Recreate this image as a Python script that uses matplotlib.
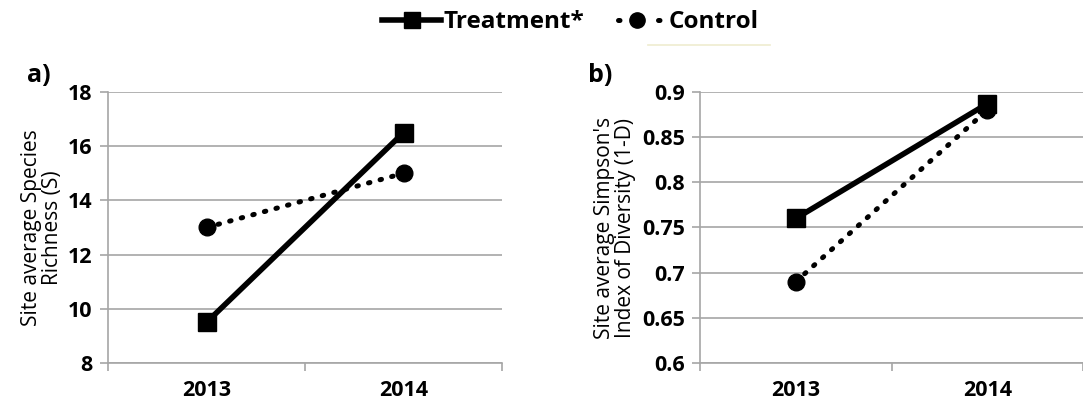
import matplotlib.pyplot as plt
from matplotlib.lines import Line2D

plt.rcParams['font.family'] = ['Open Sans', 'DejaVu Sans']

years = ['2013', '2014']
richness_treatment = [9.5, 16.5]
richness_control = [13, 15]
simpson_treatment = [0.76, 0.887]
simpson_control = [0.69, 0.88]

grid_gray = '#a6a6a6'

fig = plt.figure(figsize=(10.83, 4.08), dpi=100)
ax_a = fig.add_axes([108 / 1083, 1 - 363 / 408, 394 / 1083, 271 / 408])
ax_b = fig.add_axes([700 / 1083, 1 - 363 / 408, 383 / 1083, 271 / 408])


def style_panel(ax, treat, ctrl, ylim, yticks, ytick_labels, ylabel):
    x = range(len(years))
    ax.plot(x, treat, color='black', lw=4, marker='s', ms=13,
            solid_capstyle='butt', zorder=3)
    ax.plot(x, ctrl, color='black', lw=3.6, ls=(0, (0.3, 2.1)),
            dash_capstyle='round', marker='o', ms=12, zorder=3)
    ax.set_xlim(-0.5, 1.5)
    ax.set_ylim(*ylim)
    ax.set_yticks(yticks)
    ax.set_yticklabels(ytick_labels)
    ax.set_xticks(list(x))
    ax.set_xticklabels(years)
    ax.set_xticks([-0.5, 0.5, 1.5], minor=True)
    ax.grid(axis='y', color=grid_gray, lw=1.2, zorder=0)
    for side in ['top', 'right']:
        ax.spines[side].set_visible(False)
    for side in ['left', 'bottom']:
        ax.spines[side].set_color(grid_gray)
        ax.spines[side].set_linewidth(1.2)
    ax.tick_params(axis='y', length=6, width=1.2, color=grid_gray, pad=5,
                   labelsize=15.5)
    ax.tick_params(axis='x', which='major', length=0, pad=12, labelsize=15.5)
    ax.tick_params(axis='x', which='minor', length=6, width=1.2, color=grid_gray)
    for lab in ax.get_xticklabels() + ax.get_yticklabels():
        lab.set_fontweight('bold')
    ax.set_ylabel(ylabel, fontsize=15, linespacing=1.0, labelpad=4)


style_panel(ax_a, richness_treatment, richness_control, (8, 18),
            [8, 10, 12, 14, 16, 18], ['8', '10', '12', '14', '16', '18'],
            'Site average Species\nRichness (S)')
style_panel(ax_b, simpson_treatment, simpson_control, (0.6, 0.9),
            [0.6, 0.65, 0.7, 0.75, 0.8, 0.85, 0.9],
            ['0.6', '0.65', '0.7', '0.75', '0.8', '0.85', '0.9'],
            "Site average Simpson's\nIndex of Diversity (1-D)")

fig.text(27 / 1083, 1 - 75 / 408, 'a)', fontsize=18, fontweight='bold',
         va='center', ha='left')
fig.text(588 / 1083, 1 - 75 / 408, 'b)', fontsize=18, fontweight='bold',
         va='center', ha='left')

handles = [
    Line2D([], [], color='black', lw=4, marker='s', ms=11),
    Line2D([], [], color='black', lw=3.6, ls=(2.0, (0.3, 3.7)),
           dash_capstyle='round', marker='o', ms=11),
]
fig.legend(handles, ['Treatment*', 'Control'], loc='center',
           bbox_to_anchor=(0.527, 0.945), ncol=2, frameon=False,
           handlelength=2.4, handletextpad=0.1, columnspacing=1.0,
           prop={'weight': 'bold', 'size': 17.5})

# faint rule under the legend
fig.add_artist(Line2D([648 / 1083, 770 / 1083], [1 - 45 / 408, 1 - 45 / 408],
                      color='#efeccf', lw=1.2))

fig.savefig('out.png', dpi=100)
